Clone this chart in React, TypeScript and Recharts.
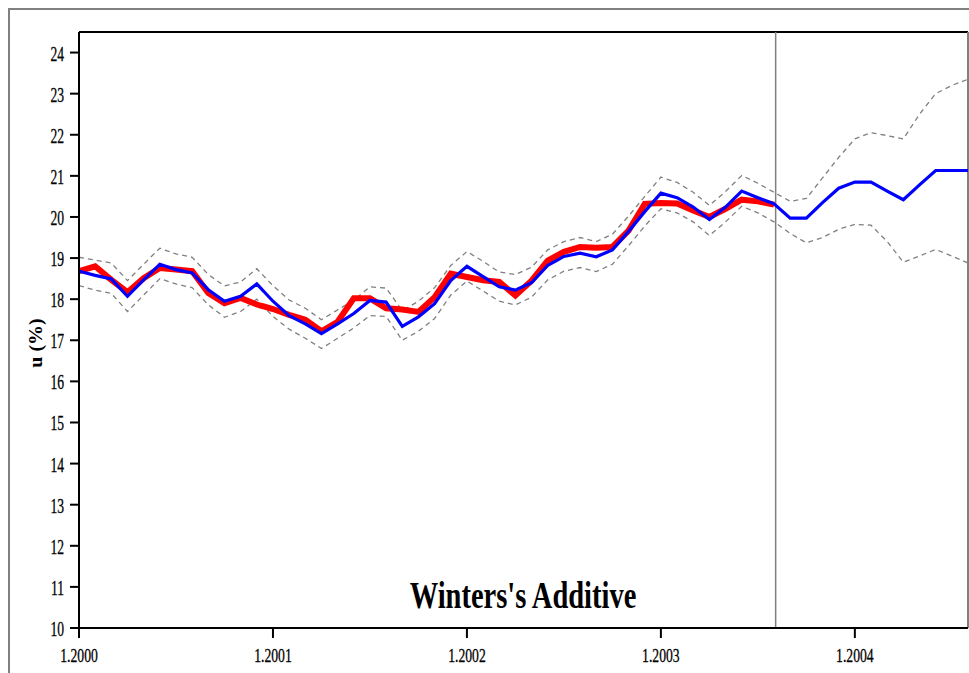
import React from 'react';
import { LineChart, Line, XAxis, YAxis, ReferenceLine } from 'recharts';

// month index (0 = Jan 2000)
const months = [
  0, 1, 2, 3, 4, 5, 6, 7, 8, 9, 10, 11,
  12, 13, 14, 15, 16, 17, 18, 19, 20, 21, 22, 23,
  24, 25, 26, 27, 28, 29, 30, 31, 32, 33, 34, 35,
  36, 37, 38, 39, 40, 41, 42, 43, 44, 45, 46, 47,
  48, 49, 50, 51, 52, 53, 54, 55,
];

const yearTicks = [0, 12, 24, 36, 48];
const yearLabels = ['1.2000', '1.2001', '1.2002', '1.2003', '1.2004'];
const yTicks = [10, 11, 12, 13, 14, 15, 16, 17, 18, 19, 20, 21, 22, 23, 24];
const forecastStart = 43.1;

// observed unemployment rate (red)
const actual = [
  18.68, 18.8, 18.47, 18.17, 18.51, 18.76, 18.72, 18.68, 18.15, 17.9, 18.03, 17.87,
  17.76, 17.62, 17.5, 17.22, 17.45, 18.02, 18.02, 17.78, 17.75, 17.69, 18.05, 18.62,
  18.54, 18.46, 18.42, 18.09, 18.45, 18.94, 19.15, 19.27, 19.25, 19.27, 19.67, 20.32,
  20.34, 20.33, 20.16, 20.0, 20.2, 20.42, 20.38, 20.3,
];

// Winters's additive fit + forecast (blue)
const fitted = [
  18.68, 18.58, 18.49, 18.07, 18.47, 18.85, 18.72, 18.64, 18.23, 17.95, 18.07, 18.37,
  17.95, 17.6, 17.4, 17.16, 17.4, 17.65, 17.97, 17.93, 17.34, 17.57, 17.89, 18.45,
  18.8, 18.55, 18.3, 18.22, 18.4, 18.82, 19.04, 19.12, 19.03, 19.2, 19.65, 20.13,
  20.58, 20.47, 20.24, 19.94, 20.24, 20.63, 20.47, 20.32, 19.97, 19.97, 20.35, 20.7,
  20.85, 20.85, 20.63, 20.42, 20.78, 21.13, 21.13, 21.13,
];

// upper confidence bound (dashed)
const upper = [
  19.02, 18.95, 18.88, 18.45, 18.85, 19.24, 19.1, 19.02, 18.6, 18.32, 18.42, 18.74,
  18.33, 17.98, 17.78, 17.5, 17.74, 17.98, 18.3, 18.27, 17.72, 17.95, 18.28, 18.82,
  19.16, 18.92, 18.66, 18.6, 18.78, 19.2, 19.4, 19.5, 19.4, 19.58, 20.02, 20.5,
  20.97, 20.84, 20.6, 20.28, 20.62, 21.01, 20.82, 20.6, 20.38, 20.45, 20.95, 21.45,
  21.9, 22.05, 21.98, 21.9, 22.5, 23.0, 23.2, 23.35,
];

// lower confidence bound (dashed)
const lower = [
  18.33, 18.22, 18.14, 17.7, 18.1, 18.5, 18.37, 18.28, 17.86, 17.56, 17.7, 18.0,
  17.58, 17.27, 17.05, 16.8, 17.05, 17.3, 17.6, 17.58, 17.0, 17.22, 17.53, 18.1,
  18.44, 18.2, 17.95, 17.86, 18.05, 18.47, 18.68, 18.77, 18.67, 18.85, 19.3, 19.78,
  20.2, 20.1, 19.88, 19.55, 19.88, 20.26, 20.1, 19.88, 19.6, 19.37, 19.5, 19.7,
  19.82, 19.8, 19.4, 18.9, 19.05, 19.21, 19.05, 18.88,
];

const data = months.map((m, i) => ({
  m,
  actual: i < actual.length ? actual[i] : null,
  fitted: fitted[i],
  upper: upper[i],
  lower: lower[i],
}));

const FONT = '"Liberation Serif", "Times New Roman", serif';

const XTick = (props: any) => {
  const { x, y, payload } = props;
  const idx = yearTicks.indexOf(payload.value);
  return (
    <text
      transform={`translate(${x},${y + 22}) scale(0.72,1)`}
      textAnchor="middle"
      fontFamily={FONT}
      fontSize={19}
      fill="#000"
      stroke="#000"
      strokeWidth={0.3}
    >
      {idx >= 0 ? yearLabels[idx] : ''}
    </text>
  );
};

const YTick = (props: any) => {
  const { x, y, payload } = props;
  return (
    <text
      transform={`translate(${x - 4},${y + 8}) scale(0.68,1)`}
      textAnchor="end"
      fontFamily={FONT}
      fontSize={20}
      fill="#000"
      stroke="#000"
      strokeWidth={0.3}
    >
      {payload.value}
    </text>
  );
};

export default function App() {
  return (
    <div
      style={{
        position: 'fixed',
        left: 8,
        top: 8,
        width: 961,
        height: 665,
        boxSizing: 'border-box',
        borderLeft: '2px solid #808080',
        borderTop: '2px solid #808080',
        background: '#fff',
        overflow: 'hidden',
      }}
    >
      <LineChart
        width={959}
        height={663}
        data={data}
        margin={{ top: 22, right: 1, bottom: 5, left: 0 }}
      >
        <XAxis
          dataKey="m"
          type="number"
          domain={[0, 55]}
          ticks={yearTicks}
          allowDataOverflow
          height={40}
          tickSize={10}
          axisLine={{ stroke: '#000', strokeWidth: 2 }}
          tickLine={{ stroke: '#000', strokeWidth: 2 }}
          tick={<XTick />}
          interval={0}
        />
        <YAxis
          type="number"
          domain={[10, 24.5]}
          ticks={yTicks}
          allowDataOverflow
          width={69}
          tickSize={9}
          axisLine={{ stroke: '#000', strokeWidth: 2 }}
          tickLine={{ stroke: '#000', strokeWidth: 2 }}
          tick={<YTick />}
          interval={0}
        />
        <ReferenceLine y={24.5} stroke="#000" strokeWidth={2} />
        <ReferenceLine x={55} stroke="#808080" strokeWidth={2} />
        <ReferenceLine x={forecastStart} stroke="#808080" strokeWidth={1.5} />
        <Line
          dataKey="upper"
          type="linear"
          stroke="#808080"
          strokeWidth={1.3}
          strokeDasharray="5 4"
          dot={false}
          isAnimationActive={false}
        />
        <Line
          dataKey="lower"
          type="linear"
          stroke="#808080"
          strokeWidth={1.3}
          strokeDasharray="5 4"
          dot={false}
          isAnimationActive={false}
        />
        <Line
          dataKey="actual"
          type="linear"
          stroke="#ff0000"
          strokeWidth={6}
          dot={false}
          isAnimationActive={false}
        />
        <Line
          dataKey="fitted"
          type="linear"
          stroke="#0000ff"
          strokeWidth={3.2}
          dot={false}
          isAnimationActive={false}
        />
      </LineChart>
      <div
        style={{
          position: 'absolute',
          left: 513,
          top: 566,
          fontFamily: FONT,
          fontWeight: 'bold',
          fontSize: 38,
          lineHeight: '38px',
          whiteSpace: 'nowrap',
          color: '#000',
          transform: 'translateX(-50%) scaleX(0.75)',
        }}
      >
        Winters's Additive
      </div>
      <div
        style={{
          position: 'absolute',
          left: 25,
          top: 333,
          fontFamily: FONT,
          fontWeight: 'bold',
          fontSize: 20,
          lineHeight: '20px',
          whiteSpace: 'nowrap',
          color: '#000',
          transform: 'translate(-50%,-50%) rotate(-90deg) scaleY(0.95)',
        }}
      >
        u (%)
      </div>
    </div>
  );
}
